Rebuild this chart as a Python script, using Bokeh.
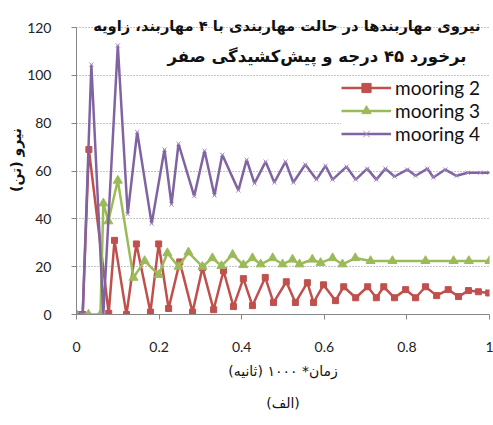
from bokeh.plotting import figure
from bokeh.models import Label, FixedTicker, Legend, Title
from bokeh.embed import file_html
from bokeh.resources import INLINE

# ---- data ----
red_t = [0, 0.015, 0.03, 0.078, 0.092, 0.121, 0.145, 0.179, 0.199, 0.223, 0.25, 0.281, 0.305,
         0.332, 0.356, 0.38, 0.404, 0.426, 0.457, 0.477, 0.508, 0.53, 0.559, 0.574, 0.598,
         0.627, 0.647, 0.676, 0.705, 0.726, 0.744, 0.77, 0.797, 0.821, 0.845, 0.872, 0.90,
         0.925, 0.949, 0.973, 0.998]
red_v = [0, 0, 69, 0.5, 31, 0, 29.5, 1, 29.5, 2.5, 22, 1, 19.5, 2, 18.3, 3.3, 15, 3.7, 15.5,
         5, 13.7, 5, 13.3, 5, 12.4, 5.8, 11.6, 7, 11.6, 7, 11.6, 7, 10.4, 7, 11.6, 7.9, 10.4,
         7.5, 10, 9.5, 9]

green_t = [0, 0.029, 0.058, 0.065, 0.077, 0.1, 0.138, 0.165, 0.199, 0.22, 0.247, 0.271, 0.305,
           0.329, 0.351, 0.378, 0.404, 0.426, 0.446, 0.475, 0.499, 0.523, 0.54, 0.571, 0.591,
           0.62, 0.644, 0.675, 0.712, 0.765, 0.845, 0.913, 0.95, 1.0]
green_v = [0, 0, 0, 46.5, 39, 56, 15.4, 22.4, 16.6, 25.7, 20, 26, 20, 23.6, 20.3, 25, 20.7,
           23.6, 21, 23.6, 21, 23, 21, 23, 21.6, 23.6, 21, 23.6, 22.4, 22.4, 22.4, 22.4, 22.4, 22.4]

purple_t = [0, 0.015, 0.036, 0.065, 0.1, 0.124, 0.147, 0.182, 0.213, 0.23, 0.247, 0.285, 0.31,
            0.334, 0.353, 0.392, 0.412, 0.431, 0.458, 0.479, 0.506, 0.525, 0.554, 0.581, 0.603,
            0.62, 0.654, 0.676, 0.704, 0.726, 0.748, 0.77, 0.801, 0.821, 0.85, 0.864, 0.893,
            0.92, 0.947, 0.978, 1.0]
purple_v = [0, 0, 104.5, 0, 112.5, 42, 76.3, 38, 69, 46, 71.4, 49.5, 68.5, 49.8, 66.8, 51.9,
            64.7, 54.8, 63.9, 55.2, 63.9, 55.2, 62.7, 56.4, 62.2, 56.4, 61.8, 56.4, 61, 56.4,
            61, 57.7, 60.6, 58, 61, 57.3, 60.6, 58, 59.3, 59.3, 59.3]

series_names = ["mooring 2", "mooring 3", "mooring 4"]
xticks = [0, 0.2, 0.4, 0.6, 0.8, 1]
xtick_labels = ["0", "0.2", "0.4", "0.6", "0.8", "1"]
yticks = [0, 20, 40, 60, 80, 100, 120]

title_line1 = "نیروی مهاربندها در حالت مهاربندی با ۴ مهاربند، زاویه"
title_line2 = "برخورد ۴۵ درجه و پیش‌کشیدگی صفر"
x_title = "زمان* ۱۰۰۰ (ثانیه)"
y_title = "نیرو (تن)"
caption = "(الف)"

RED = "#C0504D"
GREEN = "#9BBB59"
PURPLE = "#8064A2"
AXIS = "#868686"
AR_FONT = "DejaVu Sans"
NUM_FONT = "Lato"

# frame: y=0 at 314px, y=120 at 27px; extra headroom above 120 for the title text
p = figure(width=493, height=425, output_backend="svg", toolbar_location=None,
           x_range=(0, 1), y_range=(0, 129.2),
           min_border_left=76, min_border_right=4, min_border_top=5, min_border_bottom=111)
p.outline_line_color = None
p.background_fill_color = "white"
p.border_fill_color = "white"

# axes
p.xaxis.ticker = FixedTicker(ticks=xticks)
p.xaxis.major_label_overrides = {t: l for t, l in zip(xticks, xtick_labels)}
p.yaxis.ticker = FixedTicker(ticks=yticks)
p.yaxis.bounds = (0, 120)
for ax in (p.xaxis, p.yaxis):
    ax.axis_line_color = AXIS
    ax.axis_line_width = 1
    ax.major_tick_line_color = AXIS
    ax.major_tick_out = 5
    ax.major_tick_in = 0
    ax.minor_tick_line_color = None
    ax.major_label_text_font = NUM_FONT
    ax.major_label_text_font_size = "14px"
    ax.major_label_text_color = "#222222"
p.xaxis.major_label_standoff = 22
p.yaxis.major_label_standoff = 20

p.xaxis.axis_label = x_title
p.xaxis.axis_label_text_font = AR_FONT
p.xaxis.axis_label_text_font_size = "14px"
p.xaxis.axis_label_text_font_style = "normal"
p.xaxis.axis_label_text_color = "#111111"
p.xaxis.axis_label_standoff = 8

p.xgrid.grid_line_color = None
p.ygrid.ticker = FixedTicker(ticks=yticks)
p.ygrid.grid_line_color = "#8a8a8a"
p.ygrid.grid_line_dash = "1 2"
p.ygrid.grid_line_width = 1

# series
r1 = p.line(red_t, red_v, line_color=RED, line_width=2.5)
m1 = p.scatter(red_t, red_v, marker="square", size=6, fill_color=RED, line_color=RED)
r2 = p.line(green_t, green_v, line_color=GREEN, line_width=2.5)
m2 = p.scatter(green_t, green_v, marker="triangle", size=9, fill_color=GREEN, line_color=GREEN)
r3 = p.line(purple_t, purple_v, line_color=PURPLE, line_width=2.5)
m3 = p.scatter(purple_t, purple_v, marker="x", size=6, line_color="#a38fc0", line_width=1)

legend = Legend(items=[(series_names[0], [r1, m1]), (series_names[1], [r2, m2]),
                       (series_names[2], [r3, m3])],
                location=(265, 169), orientation="vertical")
legend.glyph_width = 50
legend.glyph_height = 23
legend.label_height = 23
legend.spacing = 0
legend.padding = 2
legend.margin = 0
legend.label_standoff = 4
legend.label_text_font = NUM_FONT
legend.label_text_font_size = "19px"
legend.label_text_color = "#111111"
legend.border_line_color = None
legend.background_fill_color = "white"
legend.background_fill_alpha = 1.0
p.add_layout(legend, "center")

# chart title (drawn over the top of the plot area, as in the reference)
for (x, y, t, fs) in [(404, 289, title_line1, "14.7px"), (390, 258, title_line2, "16.5px")]:
    p.add_layout(Label(x=x, y=y, x_units="screen", y_units="screen", text=t,
                       text_font=AR_FONT, text_font_size=fs, text_font_style="bold",
                       text_align="right", text_baseline="middle", text_color="#111111"))

# y axis title
p.add_layout(Title(text=y_title, text_font=AR_FONT, text_font_size="14px",
                   text_font_style="bold", text_color="#111111", align="center",
                   offset=12, standoff=1), "left")

# caption below
p.add_layout(Title(text=caption, text_font=AR_FONT, text_font_size="14px",
                   text_font_style="normal", text_color="#111111", align="center",
                   offset=-27, standoff=23), "below")

open("out.html", "w").write(file_html(p, INLINE))
